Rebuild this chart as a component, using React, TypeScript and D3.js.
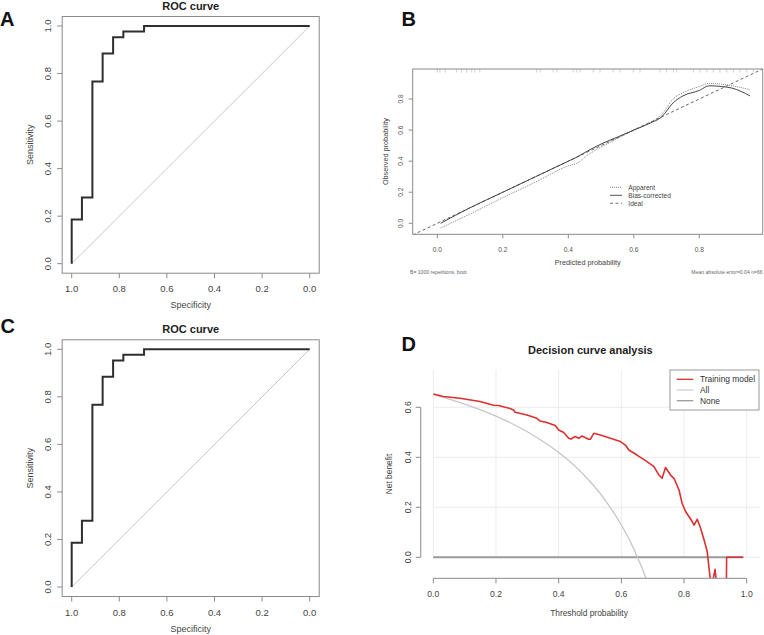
import React, { useEffect, useRef } from "react";
import * as d3 from "d3";

// ROC curve (panels A and C show the same curve)
const rocSpecificity = [1, 0.957, 0.913, 0.87, 0.826, 0.783, 0.696, 0];
const rocSensitivity = [0, 0.186, 0.279, 0.767, 0.884, 0.953, 0.977, 1];
const rocTicks = [0, 0.2, 0.4, 0.6, 0.8, 1.0];

// Calibration curve (panel B)
const calPredicted = [0.01, 0.1, 0.2, 0.3, 0.4, 0.43, 0.45, 0.5, 0.55, 0.6, 0.65, 0.685, 0.72, 0.75, 0.8, 0.83, 0.87, 0.9, 0.955];
const calApparent = [-0.03, 0.06, 0.165, 0.265, 0.37, 0.39, 0.425, 0.49, 0.545, 0.6, 0.648, 0.7, 0.8, 0.84, 0.88, 0.9, 0.895, 0.885, 0.86];
const calBiasCorrected = [0.0, 0.1, 0.2, 0.3, 0.4, 0.43, 0.455, 0.51, 0.555, 0.6, 0.645, 0.685, 0.775, 0.82, 0.855, 0.885, 0.88, 0.87, 0.82];
const calRug = [0.0, 0.008, 0.024, 0.059, 0.074, 0.09, 0.105, 0.115, 0.13, 0.303, 0.314, 0.354, 0.365, 0.415, 0.426, 0.436, 0.476, 0.497, 0.537, 0.558, 0.598, 0.619, 0.68, 0.7, 0.721, 0.731, 0.782, 0.802, 0.823, 0.843, 0.863, 0.884, 0.904, 0.924, 0.945, 0.965];
const calTicks = [0, 0.2, 0.4, 0.6, 0.8];
const calLegend = ["Apparent", "Bias-corrected", "Ideal"];

// Decision curve (panel D)
const dcaThreshold = [0, 0.032, 0.085, 0.149, 0.192, 0.208, 0.245, 0.256, 0.261, 0.299, 0.33, 0.341, 0.362, 0.389, 0.4, 0.416, 0.432, 0.439, 0.453, 0.464, 0.474, 0.496, 0.501, 0.512, 0.533, 0.565, 0.597, 0.613, 0.624, 0.65, 0.682, 0.704, 0.72, 0.73, 0.741, 0.757, 0.768, 0.784, 0.794, 0.805, 0.826, 0.832, 0.842, 0.853, 0.864, 0.874, 0.884, 0.888, 0.899, 0.905, 0.935, 0.936, 0.989];
const dcaModel = [0.653, 0.643, 0.636, 0.623, 0.608, 0.607, 0.595, 0.589, 0.58, 0.569, 0.556, 0.545, 0.539, 0.527, 0.509, 0.499, 0.476, 0.473, 0.483, 0.476, 0.485, 0.472, 0.472, 0.496, 0.489, 0.476, 0.463, 0.449, 0.429, 0.409, 0.383, 0.363, 0.329, 0.316, 0.359, 0.329, 0.316, 0.269, 0.216, 0.183, 0.143, 0.129, 0.152, 0.116, 0.069, 0.023, -0.09, -0.12, -0.048, -0.12, -0.12, 0, 0];
const dcaAllThreshold = [0, 0.1, 0.2, 0.3, 0.4, 0.45, 0.5, 0.55, 0.6, 0.63, 0.65, 0.67, 0.7];
const dcaAll = [0.652, 0.613, 0.565, 0.502, 0.419, 0.367, 0.303, 0.226, 0.129, 0.059, 0.004, -0.056, -0.16];
const dcaNoneThreshold = [0, 0.989];
const dcaNone = [0, 0];
const dcaTicksX = [0, 0.2, 0.4, 0.6, 0.8, 1.0];
const dcaTicksY = [0, 0.2, 0.4, 0.6];
const dcaLegend = ["Training model", "All", "None"];

const FONT = "'Liberation Sans', Arial, Helvetica, sans-serif";
const fmt = d3.format(".1f");

type Sel = d3.Selection<SVGSVGElement, unknown, null, undefined>;

function drawRoc(svg: Sel, o: { y0: number; y1: number; titleY: number; tickY: number; labelY: number }) {
  const x = d3.scaleLinear().domain([1, 0]).range([71.7, 309.7]);
  const y = d3.scaleLinear().domain([0, 1]).range([o.y0, o.y1]);
  const g = svg.append("g");
  const bx0 = x(1.04), bx1 = x(-0.04), by0 = y(1.04), by1 = y(-0.04);

  g.append("line")
    .attr("x1", x(1)).attr("y1", y(0)).attr("x2", x(0)).attr("y2", y(1))
    .attr("stroke", "#c8c8c8").attr("stroke-width", 1);

  const line = d3.line<number>()
    .x((d, i) => x(rocSpecificity[i]))
    .y(d => y(d))
    .curve(d3.curveStepBefore);
  g.append("path").datum(rocSensitivity).attr("d", line)
    .attr("fill", "none").attr("stroke", "#2e2e2e").attr("stroke-width", 2);

  g.append("rect")
    .attr("x", bx0).attr("y", by0).attr("width", bx1 - bx0).attr("height", by1 - by0)
    .attr("fill", "none").attr("stroke", "#8a8a8a").attr("stroke-width", 1);

  rocTicks.forEach(t => {
    g.append("line").attr("x1", bx0).attr("x2", bx0 - 5).attr("y1", y(t)).attr("y2", y(t)).attr("stroke", "#8a8a8a");
    g.append("text").attr("transform", `translate(50.5,${y(t)}) rotate(-90)`)
      .attr("text-anchor", "middle").attr("font-size", 9.5).attr("fill", "#444").text(fmt(t));
    g.append("line").attr("x1", x(t)).attr("x2", x(t)).attr("y1", by1).attr("y2", by1 + 5).attr("stroke", "#8a8a8a");
    g.append("text").attr("x", x(t)).attr("y", o.tickY)
      .attr("text-anchor", "middle").attr("font-size", 9.5).attr("fill", "#444").text(fmt(t));
  });

  g.append("text").attr("x", (bx0 + bx1) / 2).attr("y", o.titleY)
    .attr("text-anchor", "middle").attr("font-size", 11).attr("font-weight", "bold").attr("fill", "#222").text("ROC curve");
  g.append("text").attr("x", (bx0 + bx1) / 2).attr("y", o.labelY)
    .attr("text-anchor", "middle").attr("font-size", 9).attr("fill", "#444").text("Specificity");
  g.append("text").attr("transform", `translate(32.5,${(o.y0 + o.y1) / 2}) rotate(-90)`)
    .attr("text-anchor", "middle").attr("font-size", 9).attr("fill", "#444").text("Sensitivity");
}

function drawCalibration(svg: Sel) {
  const left = 412.7, right = 762.7, top = 69, bottom = 234.3;
  const x = d3.scaleLinear().domain([0, 0.8]).range([437.3, 699.3]);
  const y = d3.scaleLinear().domain([0, 0.8]).range([223.3, 99]);
  const g = svg.append("g");

  svg.append("clipPath").attr("id", "calClip")
    .append("rect").attr("x", left).attr("y", top).attr("width", right - left).attr("height", bottom - top);
  const pg = g.append("g").attr("clip-path", "url(#calClip)");

  // ideal
  const lo = x.invert(left), hi = x.invert(right);
  pg.append("line").attr("x1", x(lo)).attr("y1", y(lo)).attr("x2", x(hi)).attr("y2", y(hi))
    .attr("stroke", "#555").attr("stroke-width", 0.9).attr("stroke-dasharray", "3,2.5");

  const line = (vals: number[]) => d3.line<number>().x((d, i) => x(calPredicted[i])).y(d => y(d)).curve(d3.curveMonotoneX)(vals);
  pg.append("path").attr("d", line(calApparent)).attr("fill", "none")
    .attr("stroke", "#777").attr("stroke-width", 0.9).attr("stroke-dasharray", "1,1");
  pg.append("path").attr("d", line(calBiasCorrected)).attr("fill", "none")
    .attr("stroke", "#444").attr("stroke-width", 1);

  // rug of predicted values
  calRug.forEach(r => {
    pg.append("line").attr("x1", x(r)).attr("x2", x(r)).attr("y1", top).attr("y2", top + 3.5)
      .attr("stroke", "#c4c4c4").attr("stroke-width", 0.8);
  });

  g.append("rect").attr("x", left).attr("y", top).attr("width", right - left).attr("height", bottom - top)
    .attr("fill", "none").attr("stroke", "#8a8a8a").attr("stroke-width", 1);

  calTicks.forEach(t => {
    g.append("line").attr("x1", left).attr("x2", left - 4).attr("y1", y(t)).attr("y2", y(t)).attr("stroke", "#8a8a8a");
    g.append("text").attr("transform", `translate(402.5,${y(t)}) rotate(-90)`)
      .attr("text-anchor", "middle").attr("font-size", 6.6).attr("fill", "#555").text(fmt(t));
    g.append("line").attr("x1", x(t)).attr("x2", x(t)).attr("y1", bottom).attr("y2", bottom + 4).attr("stroke", "#8a8a8a");
    g.append("text").attr("x", x(t)).attr("y", 251.5)
      .attr("text-anchor", "middle").attr("font-size", 6.6).attr("fill", "#555").text(fmt(t));
  });

  g.append("text").attr("x", (left + right) / 2).attr("y", 264.5)
    .attr("text-anchor", "middle").attr("font-size", 7.3).attr("fill", "#444").text("Predicted probability");
  g.append("text").attr("transform", `translate(387.5,${(top + bottom) / 2}) rotate(-90)`)
    .attr("text-anchor", "middle").attr("font-size", 7.3).attr("fill", "#444").text("Observed probability");
  g.append("text").attr("x", 410).attr("y", 273.5).attr("font-size", 5.1).attr("fill", "#666").text("B= 1000 repetitions, boot");
  g.append("text").attr("x", right).attr("y", 273.5).attr("text-anchor", "end")
    .attr("font-size", 5.1).attr("fill", "#666").text("Mean absolute error=0.04 n=66");

  const styles = [
    { stroke: "#777", dash: "1,1", w: 0.9 },
    { stroke: "#555", dash: null, w: 1 },
    { stroke: "#666", dash: "3,2.5", w: 0.9 },
  ];
  calLegend.forEach((name, i) => {
    const ly = 187.3 + i * 8;
    g.append("line").attr("x1", 610).attr("x2", 622).attr("y1", ly).attr("y2", ly)
      .attr("stroke", styles[i].stroke).attr("stroke-width", styles[i].w)
      .attr("stroke-dasharray", styles[i].dash);
    g.append("text").attr("x", 628.3).attr("y", ly).attr("dy", "0.35em")
      .attr("font-size", 6.6).attr("fill", "#444").text(name);
  });
}

function drawDca(svg: Sel) {
  const x = d3.scaleLinear().domain([0, 1]).range([433.3, 746.7]);
  const y = d3.scaleLinear().domain([0, 0.6]).range([557.3, 407.3]);
  const left = x(-0.04), right = 760, top = 370, bottom = 578.3;
  const g = svg.append("g");

  // grid
  dcaTicksX.forEach(t => {
    g.append("line").attr("x1", x(t)).attr("x2", x(t)).attr("y1", top).attr("y2", y(0))
      .attr("stroke", "#ececec").attr("stroke-width", 1);
  });
  dcaTicksY.forEach(t => {
    g.append("line").attr("x1", x(0)).attr("x2", right).attr("y1", y(t)).attr("y2", y(t))
      .attr("stroke", "#ececec").attr("stroke-width", 1);
  });

  svg.append("clipPath").attr("id", "dcaClip")
    .append("rect").attr("x", left).attr("y", top).attr("width", right - left).attr("height", bottom - top);
  const pg = g.append("g").attr("clip-path", "url(#dcaClip)");

  const line = (xs: number[], ys: number[], curve: d3.CurveFactory) =>
    d3.line<number>().x((d, i) => x(xs[i])).y(d => y(d)).curve(curve)(ys);

  pg.append("path").attr("d", line(dcaNoneThreshold, dcaNone, d3.curveLinear)).attr("fill", "none")
    .attr("stroke", "#9a9a9a").attr("stroke-width", 2);
  pg.append("path").attr("d", line(dcaAllThreshold, dcaAll, d3.curveMonotoneX)).attr("fill", "none")
    .attr("stroke", "#c6c6c6").attr("stroke-width", 1.3);
  pg.append("path").attr("d", line(dcaThreshold, dcaModel, d3.curveLinear)).attr("fill", "none")
    .attr("stroke", "#dc2f2f").attr("stroke-width", 1.6).attr("stroke-linejoin", "round");

  // axes
  g.append("line").attr("x1", left).attr("x2", left).attr("y1", y(0)).attr("y2", y(0.6)).attr("stroke", "#8a8a8a");
  dcaTicksY.forEach(t => {
    g.append("line").attr("x1", left).attr("x2", left - 5).attr("y1", y(t)).attr("y2", y(t)).attr("stroke", "#8a8a8a");
    g.append("text").attr("transform", `translate(410.5,${y(t)}) rotate(-90)`)
      .attr("text-anchor", "middle").attr("font-size", 8.6).attr("fill", "#444").text(fmt(t));
  });
  g.append("line").attr("x1", x(0)).attr("x2", x(1)).attr("y1", bottom).attr("y2", bottom).attr("stroke", "#8a8a8a");
  dcaTicksX.forEach(t => {
    g.append("line").attr("x1", x(t)).attr("x2", x(t)).attr("y1", bottom).attr("y2", bottom + 5).attr("stroke", "#8a8a8a");
    g.append("text").attr("x", x(t)).attr("y", 597)
      .attr("text-anchor", "middle").attr("font-size", 8.6).attr("fill", "#444").text(fmt(t));
  });

  g.append("text").attr("x", (left + right) / 2).attr("y", 354)
    .attr("text-anchor", "middle").attr("font-size", 11).attr("font-weight", "bold").attr("fill", "#222")
    .text("Decision curve analysis");
  g.append("text").attr("x", 589).attr("y", 615.5)
    .attr("text-anchor", "middle").attr("font-size", 8.4).attr("fill", "#444").text("Threshold probability");
  g.append("text").attr("transform", `translate(391.5,474) rotate(-90)`)
    .attr("text-anchor", "middle").attr("font-size", 8.4).attr("fill", "#444").text("Net benefit");

  // legend
  g.append("rect").attr("x", 670).attr("y", 370).attr("width", 89).attr("height", 40)
    .attr("fill", "#fff").attr("stroke", "#9a9a9a").attr("stroke-width", 1);
  const colors = ["#dc2f2f", "#cfcfcf", "#9a9a9a"];
  dcaLegend.forEach((name, i) => {
    const ly = 379.3 + i * 10.7;
    g.append("line").attr("x1", 676.7).attr("x2", 693.3).attr("y1", ly).attr("y2", ly)
      .attr("stroke", colors[i]).attr("stroke-width", 1.3);
    g.append("text").attr("x", 700).attr("y", ly).attr("dy", "0.35em")
      .attr("font-size", 8.4).attr("fill", "#333").text(name);
  });
}

const App: React.FC = () => {
  const svgRef = useRef<SVGSVGElement>(null);

  useEffect(() => {
    const svg = d3.select(svgRef.current!) as Sel;
    svg.selectAll("*").remove();
    svg.attr("width", 764).attr("height", 635).style("font-family", FONT);

    svg.append("rect").attr("width", 764).attr("height", 635).attr("fill", "#fff");

    drawRoc(svg, { y0: 263.7, y1: 26, titleY: 9.6, tickY: 292, labelY: 307.5 });
    drawRoc(svg, { y0: 587, y1: 349.3, titleY: 333.3, tickY: 616, labelY: 632 });
    drawCalibration(svg);
    drawDca(svg);

    // panel letters
    const letters = [
      { t: "A", x: 0, y: 26 },
      { t: "B", x: 401.5, y: 26 },
      { t: "C", x: 0.5, y: 333 },
      { t: "D", x: 401.5, y: 350.5 },
    ];
    letters.forEach(l => {
      svg.append("text").attr("x", l.x).attr("y", l.y)
        .attr("font-size", 20).attr("font-weight", "bold").attr("fill", "#111").text(l.t);
    });
  }, []);

  return <svg ref={svgRef} style={{ position: "absolute", left: 0, top: 0 }}></svg>;
};

export default App;
